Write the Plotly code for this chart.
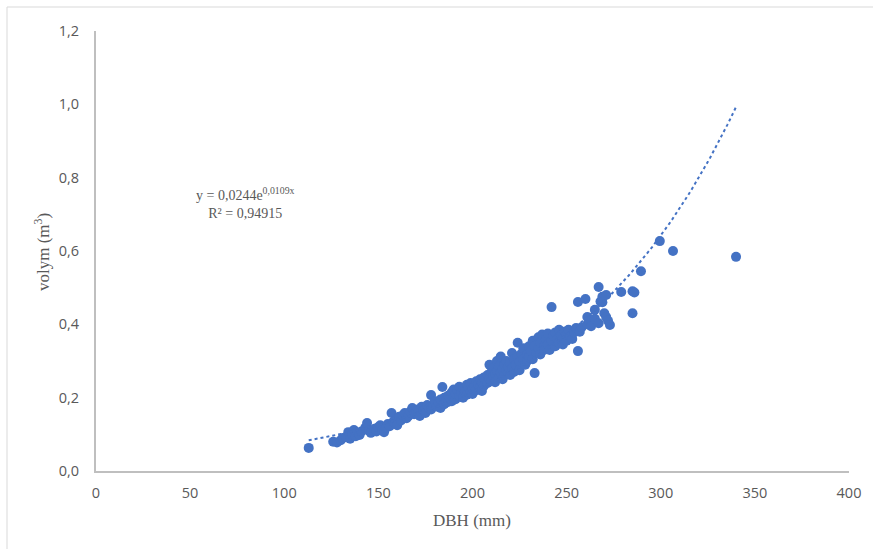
import numpy as np
import plotly.graph_objects as go

# ---- data ----
dbh = [
    113,
    126, 128, 130, 131, 133, 134, 135, 136, 137, 138, 139, 140, 141, 143, 144, 145,
    146, 148, 149, 150, 151, 152, 153, 154, 155, 156, 157, 158, 159, 160, 160,
    161, 162, 163, 164, 165, 166, 167, 168, 169, 170, 171, 172, 173, 174, 175, 175,
    176, 177, 178, 178, 179, 180, 181, 182, 183, 183, 184, 185, 185, 186, 187, 187, 188, 189, 189, 190, 190,
    191, 191, 192, 193, 193, 194, 195, 195, 196, 197, 197, 198, 199, 199, 200, 200, 201, 202, 202, 203, 204, 204, 205, 205,
    206, 206, 207, 208, 208, 209, 209, 210, 210, 211, 211, 212, 212, 213, 213, 214, 214, 215, 215, 216, 216, 217, 217, 218, 218, 219, 219, 220, 220,
    221, 221, 222, 222, 223, 224, 224, 225, 225, 226, 227, 227, 228, 229, 229, 230, 230, 231, 232, 232, 233, 233, 234, 235, 235,
    236, 236, 237, 238, 238, 239, 240, 240, 241, 242, 242, 243, 244, 244, 245, 246, 246, 247, 248, 248, 249, 250, 250,
    251, 252, 253, 254, 255, 256, 256, 257, 258, 260, 261, 261, 262, 263, 265, 265, 267, 267, 268, 269, 269, 270, 271, 271, 272, 273,
    279, 285, 286, 285, 289.5, 299.5, 306.5, 340,
]
vol = [
    0.063,
    0.080, 0.078, 0.084, 0.090, 0.092, 0.106, 0.088, 0.100, 0.112, 0.095, 0.104, 0.098, 0.108, 0.118, 0.131, 0.110,
    0.104, 0.115, 0.108, 0.120, 0.125, 0.112, 0.106, 0.118, 0.128, 0.122, 0.158, 0.135, 0.130, 0.142, 0.125,
    0.148, 0.138, 0.152, 0.158, 0.144, 0.150, 0.162, 0.172, 0.155, 0.160, 0.168, 0.150, 0.175, 0.165, 0.170, 0.158,
    0.180, 0.172, 0.207, 0.168, 0.178, 0.190, 0.176, 0.186, 0.195, 0.172, 0.229, 0.200, 0.182, 0.192, 0.205, 0.188, 0.198, 0.215, 0.190, 0.202, 0.222,
    0.196, 0.210, 0.220, 0.205, 0.230, 0.212, 0.200, 0.225, 0.218, 0.235, 0.208, 0.228, 0.215, 0.240, 0.225, 0.210, 0.232, 0.245, 0.220, 0.236, 0.228, 0.250, 0.242, 0.218,
    0.255, 0.232, 0.248, 0.262, 0.240, 0.290, 0.252, 0.270, 0.245, 0.258, 0.280, 0.265, 0.242, 0.300, 0.272, 0.255, 0.285, 0.268, 0.312, 0.278, 0.250, 0.290, 0.262, 0.275, 0.300, 0.268, 0.285, 0.295, 0.262,
    0.322, 0.280, 0.305, 0.270, 0.290, 0.350, 0.312, 0.298, 0.275, 0.320, 0.305, 0.335, 0.290, 0.318, 0.300, 0.340, 0.312, 0.328, 0.355, 0.305, 0.267, 0.340, 0.322, 0.365, 0.335,
    0.350, 0.318, 0.372, 0.340, 0.330, 0.360, 0.345, 0.375, 0.330, 0.355, 0.447, 0.368, 0.340, 0.378, 0.360, 0.350, 0.385, 0.370, 0.345, 0.362, 0.380, 0.355, 0.372,
    0.385, 0.368, 0.360, 0.378, 0.390, 0.461, 0.327, 0.380, 0.392, 0.469, 0.420, 0.400, 0.410, 0.395, 0.440, 0.415, 0.502, 0.403, 0.462, 0.475, 0.460, 0.430, 0.480, 0.420, 0.410, 0.398,
    0.488, 0.490, 0.487, 0.430, 0.545, 0.627, 0.600, 0.584,
]

# exponential trendline as printed on the chart
coef_a = 0.0244
coef_b = 0.0109
r2_text = "0,94915"

x_ticks = [0, 50, 100, 150, 200, 250, 300, 350, 400]
y_ticks = [0.0, 0.2, 0.4, 0.6, 0.8, 1.0, 1.2]

blue = "#4472C4"
grey_txt = "#595959"
axis_col = "#BFBFBF"

tx = np.linspace(min(dbh), max(dbh), 200)
ty = coef_a * np.exp(coef_b * tx)

fig = go.Figure()
fig.add_trace(go.Scatter(
    x=dbh, y=vol, mode="markers",
    marker=dict(color=blue, size=10, line=dict(width=0)),
    showlegend=False, hoverinfo="x+y"))
fig.add_trace(go.Scatter(
    x=tx, y=ty, mode="lines",
    line=dict(color=blue, width=2, dash="dot"),
    showlegend=False, hoverinfo="skip"))

W, H = 873, 549
L, R, T, B = 96, 24, 31, 78
pw, ph = W - L - R, H - T - B

def px_x(p):
    return (p - L) / pw

def px_y(p):
    return (H - B - p) / ph

tick_font = dict(family="Open Sans", size=14.5, color=grey_txt)

fig.update_layout(
    width=W, height=H,
    margin=dict(l=L, r=R, t=T, b=B),
    paper_bgcolor="white", plot_bgcolor="white",
    separators=", ",
    font=dict(family="Open Sans", size=13, color=grey_txt),
    xaxis=dict(range=[0, 400], tickvals=x_ticks, showgrid=False, zeroline=False,
               showline=True, linecolor=axis_col, linewidth=2, ticks="",
               ticklabelstandoff=8,
               tickfont=tick_font, fixedrange=True),
    yaxis=dict(range=[0, 1.2], tickvals=y_ticks, tickformat=".1f", showgrid=False,
               zeroline=False, showline=True, linecolor=axis_col, linewidth=2, ticks="",
               ticklabelstandoff=12,
               tickfont=tick_font, fixedrange=True),
    annotations=[
        dict(text="y = 0,0244e<sup>0,0109x</sup><br>R² = " + r2_text,
             xref="paper", yref="paper", x=px_x(245), y=px_y(203),
             xanchor="center", yanchor="middle",
             showarrow=False, align="center",
             font=dict(family="Liberation Serif", size=14, color=grey_txt)),
        dict(text="volym (m<sup>3</sup>)", textangle=-90,
             xref="paper", yref="paper", x=px_x(42), y=px_y(252),
             xanchor="center", yanchor="middle",
             showarrow=False,
             font=dict(family="Liberation Serif", size=17, color=grey_txt)),
        dict(text="DBH (mm)",
             xref="paper", yref="paper", x=px_x(472), y=px_y(520),
             xanchor="center", yanchor="middle",
             showarrow=False,
             font=dict(family="Liberation Serif", size=17, color=grey_txt)),
    ],
    shapes=[
        dict(type="line", xref="paper", yref="paper",
             x0=px_x(7), x1=px_x(7), y0=px_y(560), y1=px_y(7),
             line=dict(color="#D9D9D9", width=1)),
        dict(type="line", xref="paper", yref="paper",
             x0=px_x(7), x1=px_x(880), y0=px_y(7), y1=px_y(7),
             line=dict(color="#D9D9D9", width=1)),
    ],
)

fig.write_html("out.html")
